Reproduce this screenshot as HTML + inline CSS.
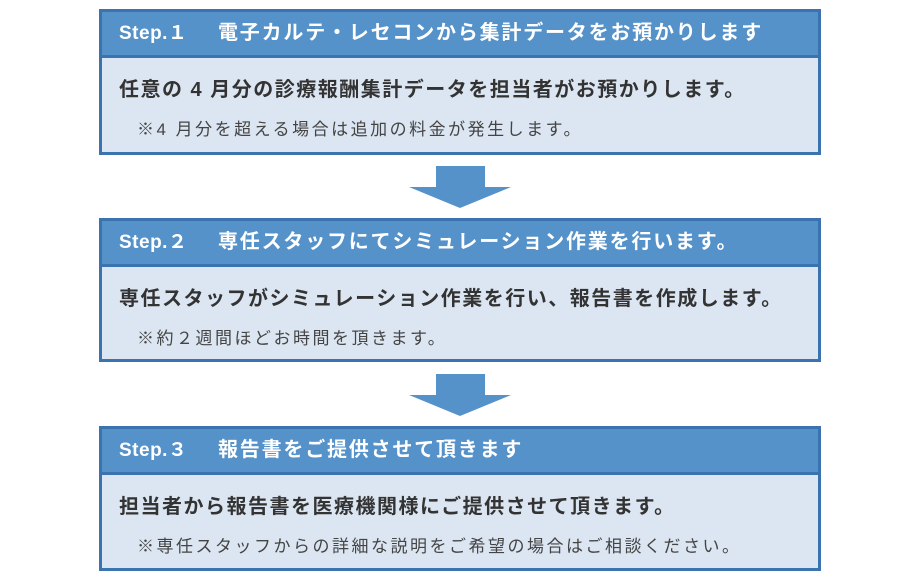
<!DOCTYPE html>
<html><head><meta charset="utf-8"><style>
body{margin:0;width:920px;height:580px;background:#fff;position:relative;font-family:"Liberation Sans","Noto Sans CJK JP",sans-serif;overflow:hidden}
.box{position:absolute;left:99px;width:716px;border:3px solid #3a73ad;background:#dce6f2}
.hd{height:43px;background:#5592c9;border-bottom:3px solid #3a73ad;color:#fff;font-weight:bold;font-size:20px;line-height:43px;padding-left:17px;white-space:nowrap;letter-spacing:1.8px}
.st{display:inline-block;width:99px;letter-spacing:0.5px;font-size:19px}
.l1{position:absolute;left:17px;top:61px;font-size:20px;letter-spacing:1.5px;font-weight:bold;color:#333;white-space:nowrap}
.l2{position:absolute;left:35px;top:103px;font-size:17px;letter-spacing:2.5px;color:#444;white-space:nowrap}
.ar{position:absolute;left:409px;width:102px;height:42px}
</style></head><body>
<div class="box" style="top:9px;height:140px"><div class="hd"><span class="st">Step.１</span>電子カルテ・レセコンから集計データをお預かりします</div>
<div class="l1">任意の 4 月分の診療報酬集計データを担当者がお預かりします。</div>
<div class="l2">※4 月分を超える場合は追加の料金が発生します。</div></div>
<svg class="ar" style="top:166px" viewBox="0 0 102 42"><rect x="27" y="0" width="49" height="21" fill="#5592c9"/><polygon points="0,21 102,21 51,42" fill="#5592c9"/></svg>
<div class="box" style="top:218px;height:138px"><div class="hd"><span class="st">Step.２</span>専任スタッフにてシミュレーション作業を行います。</div>
<div class="l1">専任スタッフがシミュレーション作業を行い、報告書を作成します。</div>
<div class="l2">※約２週間ほどお時間を頂きます。</div></div>
<svg class="ar" style="top:374px" viewBox="0 0 102 42"><rect x="27" y="0" width="49" height="21" fill="#5592c9"/><polygon points="0,21 102,21 51,42" fill="#5592c9"/></svg>
<div class="box" style="top:426px;height:139px"><div class="hd"><span class="st">Step.３</span>報告書をご提供させて頂きます</div>
<div class="l1">担当者から報告書を医療機関様にご提供させて頂きます。</div>
<div class="l2">※専任スタッフからの詳細な説明をご希望の場合はご相談ください。</div></div>
</body></html>
